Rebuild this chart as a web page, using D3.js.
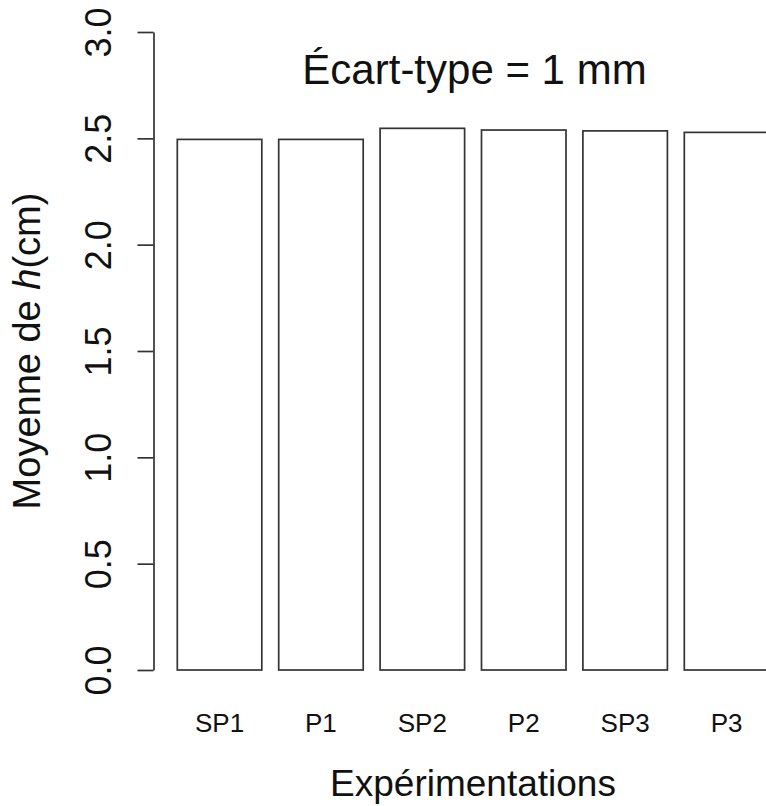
<!DOCTYPE html>
<html><head><meta charset="utf-8">
<script src="https://cdn.jsdelivr.net/npm/d3@7"></script>
<style>html,body{margin:0;padding:0;background:#fff;} text{font-family:"Liberation Sans",Arial,sans-serif;fill:#111;}</style>
</head><body>
<svg id="chart" width="766" height="806"></svg>
<script>
const categories = ["SP1","P1","SP2","P2","SP3","P3"];
const values = [2.495, 2.495, 2.547, 2.539, 2.535, 2.528];
const yTicks = [0, 0.5, 1.0, 1.5, 2.0, 2.5, 3.0];
const titleText = "Écart-type = 1 mm";
const xLabel = "Expérimentations";

const svg = d3.select("#chart");
const x = d3.scaleBand().domain(categories).range([177.3, 768.8]).paddingInner(0.2/1.2).paddingOuter(0);
const y = d3.scaleLinear().domain([0, 3]).range([670, 32]);

// bars
svg.append("g").selectAll("rect").data(values).join("rect")
  .attr("x", (d,i) => x(categories[i]))
  .attr("y", d => y(d))
  .attr("width", x.bandwidth())
  .attr("height", d => y(0) - y(d))
  .attr("fill", "#fff").attr("stroke", "#333").attr("stroke-width", 1.7);

// y axis
const axisX = 153.5;
const gy = svg.append("g").attr("transform", `translate(${axisX},0)`)
  .call(d3.axisLeft(y).tickValues(yTicks).tickFormat(d3.format(".1f")).tickSize(16).tickSizeOuter(0));
gy.select(".domain").attr("stroke", "#333").attr("stroke-width", 1.7);
gy.selectAll(".tick line").attr("stroke", "#333").attr("stroke-width", 1.7);
gy.selectAll(".tick text")
  .attr("transform", "rotate(-90)")
  .attr("x", 0).attr("y", -43).attr("dy", 0)
  .attr("text-anchor", "middle")
  .attr("font-size", 36).attr("fill", "#111")
  .style("font-family", '"Liberation Sans",Arial,sans-serif');

// category labels
svg.append("g").selectAll("text").data(categories).join("text")
  .attr("x", d => x(d) + x.bandwidth()/2)
  .attr("y", 732)
  .attr("text-anchor", "middle")
  .attr("font-size", 26)
  .text(d => d);

// title
svg.append("text").attr("x", 474.5).attr("y", 84).attr("text-anchor", "middle")
  .attr("font-size", 42).text(titleText);

// x label
svg.append("text").attr("x", 473).attr("y", 796).attr("text-anchor", "middle")
  .attr("font-size", 37).text(xLabel);

// y label
const yl = svg.append("text").attr("transform", `translate(40,${(y(0)+y(3))/2}) rotate(-90)`)
  .attr("text-anchor", "middle").attr("font-size", 38);
yl.append("tspan").text("Moyenne de ");
yl.append("tspan").attr("font-style", "italic").text("h");
yl.append("tspan").text("(cm)");
</script>
</body></html>
